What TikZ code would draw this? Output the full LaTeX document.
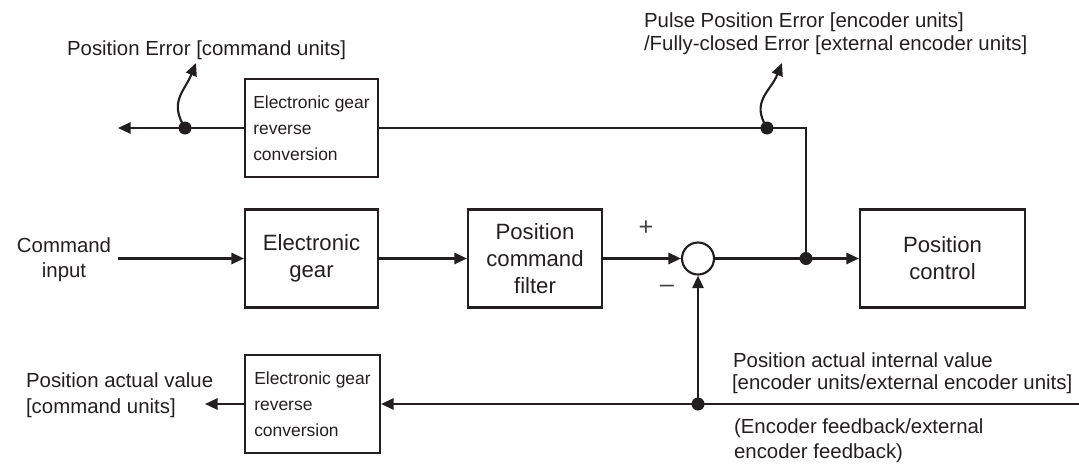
\documentclass[tikz,border=0pt]{standalone}
\usepackage{fontspec}
\setmainfont{Liberation Sans}
\usetikzlibrary{arrows.meta}
\definecolor{ink}{HTML}{231F20}
\begin{document}
\begin{tikzpicture}[x=0.75pt,y=-0.75pt,
  line width=1.6pt, draw=ink, text=ink,
  blk/.style={draw=ink, line width=1.6pt, inner sep=0pt, align=center, minimum height=73.5pt, font=\fontsize{16.6}{20.25}\selectfont},
  sblk/.style={draw=ink, line width=1.6pt, inner sep=0pt, align=left, minimum height=73.5pt, font=\fontsize{13.1}{19.5}\selectfont},
  lbl/.style={inner sep=0pt, anchor=base west, font=\fontsize{15.3}{18}\selectfont},
  clbl/.style={inner sep=0pt, anchor=base, font=\fontsize{15.3}{18}\selectfont},
  arr/.style={-{Triangle[length=9.5pt,width=8.5pt]}},
  dot/.style={circle, fill=ink, inner sep=0pt, minimum size=9.75pt},
  sumnode/.style={circle, draw=ink, line width=1.6pt, inner sep=0pt, minimum size=24pt},
  sign/.style={inner sep=0pt, text=ink!85, font=\fontsize{19}{20}\selectfont}]
\useasboundingbox (0,0) rectangle (1079,468);

% blocks
\node[sblk, minimum width=99.75pt] (rev1) at (311.5,128) {Electronic gear\\reverse\\conversion};
\node[blk, minimum width=99.75pt] (eg) at (311.5,258.5) {Electronic\\gear};
\node[blk, minimum width=100.5pt] (pcf) at (535,258.5) {Position\\command\\filter};
\node[sumnode] (sum) at (698,258.5) {};
\node[blk, minimum width=123.75pt] (pc) at (942.5,258.5) {Position\\control};
\node[sblk, minimum width=101.25pt] (rev2) at (312.5,404) {Electronic gear\\reverse\\conversion};

% junction dots
\node[dot] (d1) at (185,128) {};
\node[dot] (d2) at (806,258.5) {};
\node[dot] (d3) at (767,128) {};
\node[dot] (d4) at (698,404) {};

% free ends
\coordinate (cmdL) at (118,258.5);
\coordinate (outT) at (118,128);
\coordinate (corner) at (806,128);
\coordinate (outB) at (205,404);
\coordinate (fbin) at (1079,404);
\coordinate (e1) at (196,63);
\coordinate (e2) at (782,63);

% labels
\node[lbl] (lPE) at (66,55) {Position Error [command units]};
\node[lbl] (lPP1) at (643,27) {Pulse Position Error [encoder units]};
\node[lbl] (lPP2) at (643,50) {/Fully-closed Error [external encoder units]};
\node[clbl] (lC1) at (64,252) {Command};
\node[clbl] (lC2) at (64,277) {input};
\node[lbl] (lAV1) at (25,387) {Position actual value};
\node[lbl] (lAV2) at (25,413) {[command units]};
\node[lbl] (lAI1) at (732,367) {Position actual internal value};
\node[lbl] (lAI2) at (731,389) {[encoder units/external encoder units]};
\node[lbl] (lEF1) at (733,433) {(Encoder feedback/external};
\node[lbl] (lEF2) at (733,458) {encoder feedback)};
\node[sign] (plus) at (646,228) {+};
\node[sign] (minus) at (667,289) {–};

% connectors
\draw[arr] (cmdL) -- (eg);
\draw[arr] (eg) -- (pcf);
\draw[arr] (pcf) -- (sum);
\draw (sum) -- (d2.center);
\draw[arr] (d2.center) -- (pc);
\draw (d2.center) -- (corner) -- (rev1.east);
\draw[arr] (rev1.west) -- (outT);
\draw[arr] (d1.center) to[out=122,in=-112, looseness=1.2] (e1);
\draw[arr] (d3.center) to[out=122,in=-112, looseness=1.2] (e2);
\draw[arr] (fbin) -- (rev2);
\draw[arr] (d4.center) -- (sum);
\draw[arr] (rev2) -- (outB);
\end{tikzpicture}
\end{document}
